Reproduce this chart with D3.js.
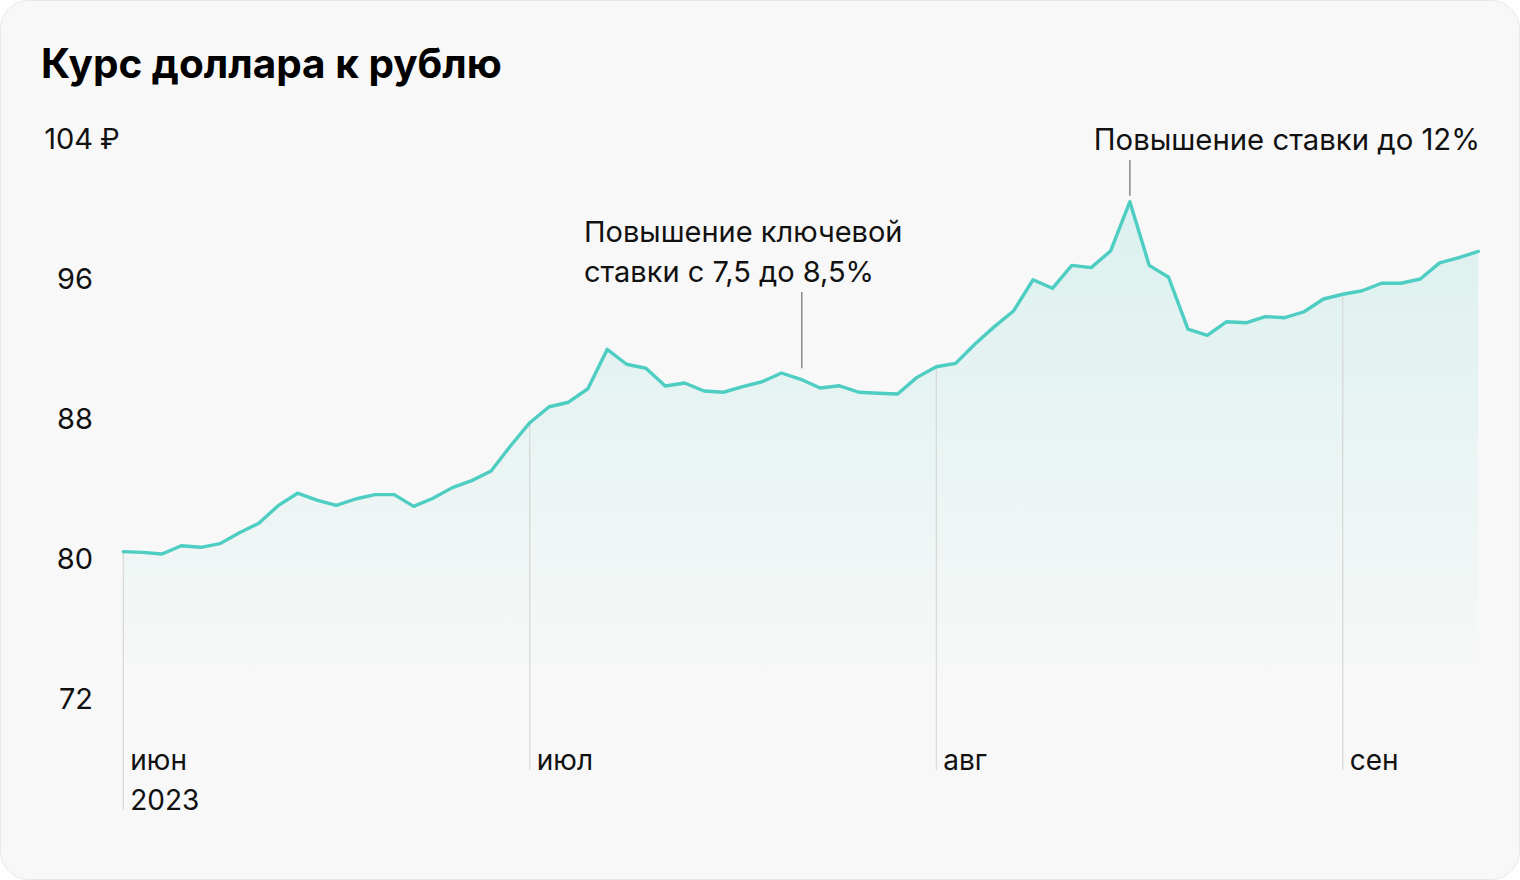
<!DOCTYPE html>
<html>
<head>
<meta charset="utf-8">
<script src="https://cdn.jsdelivr.net/npm/d3@7"></script>
<style>
  html, body { margin: 0; padding: 0; background: #ffffff; }
  svg { display: block; }
  text { font-family: Inter, Roboto, "Noto Sans", sans-serif; fill: #111; }
</style>
</head>
<body>
<svg id="chart" width="1520" height="880"></svg>
<script>
// ---- data ----
const title = "Курс доллара к рублю";
const rates = [
  80.99, 80.95, 80.86, 81.33, 81.24, 81.45, 82.07, 82.61, 83.62, 84.33,
  83.94, 83.64, 84.00, 84.25, 84.25, 83.58, 84.04, 84.65, 85.05, 85.60,
  87.03, 88.36, 89.27, 89.53, 90.30, 92.55, 91.70, 91.47, 90.46, 90.63,
  90.17, 90.10, 90.42, 90.70, 91.20, 90.84, 90.34, 90.47, 90.10, 90.04,
  90.00, 90.95, 91.56, 91.75, 92.86, 93.85, 94.76, 96.53, 96.04, 97.35,
  97.22, 98.17, 100.99, 97.35, 96.67, 93.71, 93.35, 94.13, 94.07, 94.42,
  94.36, 94.70, 95.43, 95.70, 95.90, 96.33, 96.33, 96.57, 97.49, 97.79,
  98.15
];
const yTicks = [72, 80, 88, 96, 104];
const yTopSuffix = "₽";
const monthIdx = [0, 21, 42, 63];
const monthLabels = ["июн", "июл", "авг", "сен"];
const yearLabel = "2023";
const annotations = [
  { idx: 35, lines: ["Повышение ключевой", "ставки с 7,5 до 8,5%"] },
  { idx: 52, lines: ["Повышение ставки до 12%"] }
];

// ---- layout ----
const svg = d3.select("#chart");
const W = 1520, H = 880;
const x = d3.scaleLinear().domain([0, rates.length - 1]).range([123.3, 1478.3]);
const y = d3.scaleLinear().domain([80, 104]).range([569, 149]);
const areaBottom = 688;

svg.append("rect")
  .attr("x", 0.5).attr("y", 0.5).attr("width", W - 1).attr("height", H - 1)
  .attr("rx", 28).attr("fill", "#f8f8f8").attr("stroke", "#e7e7e7");

const defs = svg.append("defs");
const grad = defs.append("linearGradient").attr("id", "fillGrad")
  .attr("gradientUnits", "userSpaceOnUse")
  .attr("x1", 0).attr("x2", 0).attr("y1", y(101)).attr("y2", areaBottom);
grad.append("stop").attr("offset", 0).attr("stop-color", "#4ecdc2").attr("stop-opacity", 0.17);
grad.append("stop").attr("offset", 0.55).attr("stop-color", "#4ecdc2").attr("stop-opacity", 0.08);
grad.append("stop").attr("offset", 1).attr("stop-color", "#4ecdc2").attr("stop-opacity", 0.0);

// title
svg.append("text").attr("x", 41).attr("y", 78)
  .attr("font-size", 40.5).attr("font-weight", 700).style("fill", "#000")
  .text(title);

// area
const area = d3.area().x((d, i) => x(i)).y0(areaBottom).y1(d => y(d));
svg.append("path").datum(rates).attr("d", area).attr("fill", "url(#fillGrad)");

// month gridlines
monthIdx.forEach((mi, k) => {
  svg.append("line")
    .attr("x1", x(mi)).attr("x2", x(mi))
    .attr("y1", y(rates[mi])).attr("y2", k === 0 ? 810 : 770)
    .attr("stroke", "#d6d6d6").attr("stroke-width", 1.2);
  svg.append("text").attr("x", x(mi) + 7).attr("y", 770)
    .attr("font-size", 28).text(monthLabels[k]);
});
svg.append("text").attr("x", x(0) + 7).attr("y", 810)
  .attr("font-size", 28).text(yearLabel);

// y labels
yTicks.forEach((t, i) => {
  svg.append("text").attr("x", 93).attr("y", y(t))
    .attr("text-anchor", "end").attr("font-size", 29).text(t);
  if (i === yTicks.length - 1) {
    svg.append("text").attr("x", 100).attr("y", y(t))
      .attr("font-size", 28).text(yTopSuffix);
  }
});

// line
const line = d3.line().x((d, i) => x(i)).y(d => y(d));
svg.append("path").datum(rates).attr("d", line)
  .attr("fill", "none").attr("stroke", "#4ecdc2").attr("stroke-width", 3.4)
  .attr("stroke-linejoin", "round").attr("stroke-linecap", "round");

// annotations
const a1 = annotations[0];
svg.append("line").attr("x1", x(a1.idx) + 1).attr("x2", x(a1.idx) + 1)
  .attr("y1", 292).attr("y2", y(rates[a1.idx]) - 11)
  .attr("stroke", "#8a8a8a").attr("stroke-width", 1.5);
a1.lines.forEach((l, i) => {
  svg.append("text").attr("x", 584).attr("y", 242 + i * 39.5)
    .attr("font-size", 29).text(l);
});
const a2 = annotations[1];
svg.append("line").attr("x1", x(a2.idx)).attr("x2", x(a2.idx))
  .attr("y1", 160).attr("y2", y(rates[a2.idx]) - 6)
  .attr("stroke", "#8a8a8a").attr("stroke-width", 1.5);
svg.append("text").attr("x", 1480).attr("y", 150).attr("text-anchor", "end")
  .attr("font-size", 29.3).text(a2.lines[0]);
</script>
</body>
</html>
